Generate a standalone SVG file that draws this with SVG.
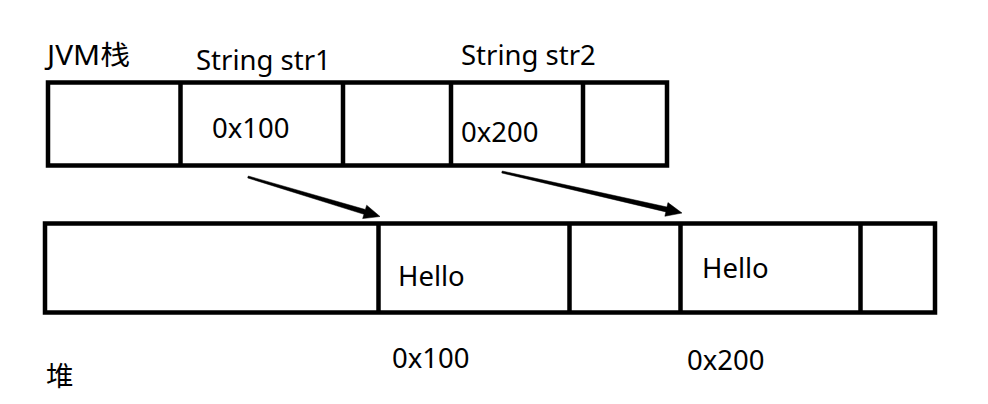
<svg xmlns="http://www.w3.org/2000/svg" width="988" height="404" viewBox="0 0 988 404">
<style>
.box{fill:none;stroke:#000;stroke-width:4.5}
.div{stroke:#000;stroke-width:4.5}
.t{font-family:"Noto Sans","Noto Sans CJK SC",sans-serif;font-size:27.5px;fill:#000}
.arr{fill:#000;stroke:#000;stroke-width:0.5;stroke-linejoin:miter}
</style>
<rect width="988" height="404" fill="#fff"/>
<g id="stack">
<rect class="box" x="48" y="82.5" width="619" height="83"/>
<line class="div" x1="180.5" y1="82.5" x2="180.5" y2="165.5"/>
<line class="div" x1="343" y1="82.5" x2="343" y2="165.5"/>
<line class="div" x1="451" y1="82.5" x2="451" y2="165.5"/>
<line class="div" x1="583" y1="82.5" x2="583" y2="165.5"/>
<text class="t" x="47" y="65" textLength="83" lengthAdjust="spacingAndGlyphs">JVM栈</text>
</g>
<g id="str1">
<text class="t" x="196" y="70">String str1</text>
<text class="t" x="212" y="138">0x100</text>
</g>
<g id="str2">
<text class="t" x="461" y="65">String str2</text>
<text class="t" x="461" y="142">0x200</text>
</g>
<g id="heap">
<rect class="box" x="45" y="223.5" width="890" height="89"/>
<line class="div" x1="378.5" y1="223.5" x2="378.5" y2="312.5"/>
<line class="div" x1="569.5" y1="223.5" x2="569.5" y2="312.5"/>
<line class="div" x1="680.5" y1="223.5" x2="680.5" y2="312.5"/>
<line class="div" x1="860.5" y1="223.5" x2="860.5" y2="312.5"/>
<text class="t" x="46" y="386">堆</text>
</g>
<g id="hello1">
<text class="t" x="398" y="286">Hello</text>
<text class="t" x="392" y="368">0x100</text>
</g>
<g id="hello2">
<text class="t" x="702" y="278">Hello</text>
<text class="t" x="687" y="370">0x200</text>
</g>
<g id="connectors">
<path class="arr" d="M248.29,176.04 L365.39,209.52 L366.68,205.20 L380,216.5 L362.66,218.62 L363.95,214.31 L247.71,177.96 Z"/>
<path class="arr" d="M502.22,171.03 L666.96,207.01 L667.96,202.62 L682,213 L664.85,216.28 L665.85,211.89 L501.78,172.98 Z"/>
</g>
</svg>
